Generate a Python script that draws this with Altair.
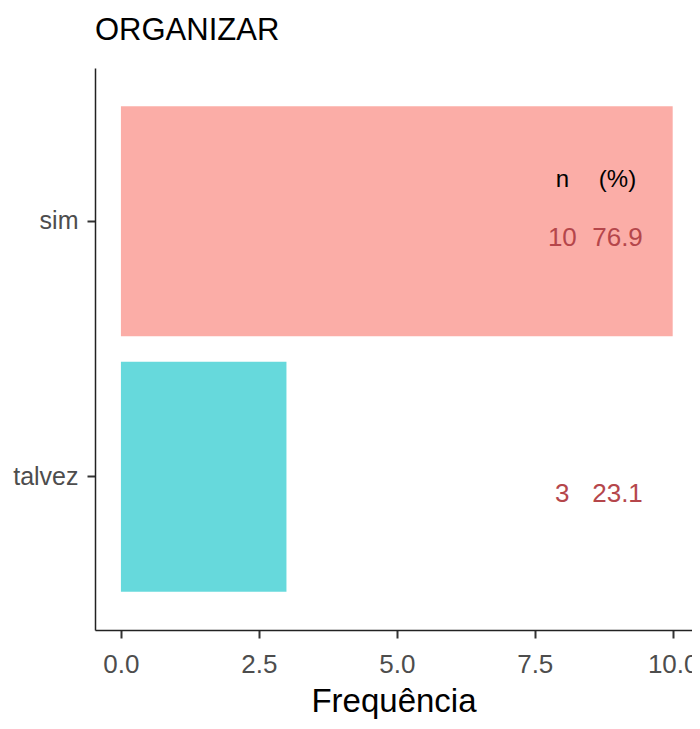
import altair as alt
import pandas as pd

categories = ["sim", "talvez"]
counts = [10, 3]
percents = ["76.9", "23.1"]
colors = ["#F8766D", "#00BFC4"]

df = pd.DataFrame({"cat": categories, "n": counts, "pct": percents})
hdr = pd.DataFrame({"cat": ["sim"]})

FONT = "Liberation Sans Narrow, Arial Narrow, Liberation Sans, sans-serif"

xscale = alt.Scale(domain=[-0.47, 10.35], nice=False, zero=False)
yscale = alt.Scale(domain=categories, paddingInner=0.1, paddingOuter=0.15)

bars = alt.Chart(df).mark_bar(opacity=0.6).encode(
    x=alt.X("n:Q", scale=xscale,
            axis=alt.Axis(title="Frequência", values=[0, 2.5, 5, 7.5, 10], format=".1f")),
    y=alt.Y("cat:N", scale=yscale, sort=categories, axis=alt.Axis(title=None)),
    color=alt.Color("cat:N", scale=alt.Scale(domain=categories, range=colors), legend=None),
)

n_txt = alt.Chart(df).mark_text(fontSize=26, font=FONT, color="#B5464B", dy=17).encode(
    x=alt.datum(8), y=alt.Y("cat:N", sort=categories), text="n:N"
)
p_txt = alt.Chart(df).mark_text(fontSize=26, font=FONT, color="#B5464B", dy=17).encode(
    x=alt.datum(9), y=alt.Y("cat:N", sort=categories), text="pct:N"
)
h1 = alt.Chart(hdr).mark_text(fontSize=24, font=FONT, color="black", dy=-41).encode(
    x=alt.datum(8), y=alt.Y("cat:N", sort=categories), text=alt.value("n")
)
h2 = alt.Chart(hdr).mark_text(fontSize=24, font=FONT, color="black", dy=-41).encode(
    x=alt.datum(9), y=alt.Y("cat:N", sort=categories), text=alt.value("(%)")
)

chart = (bars + n_txt + p_txt + h1 + h2).properties(
    width=597, height=562,
    title=alt.TitleParams("ORGANIZAR", anchor="start", frame="group", fontSize=31, font=FONT,
                          fontWeight="normal", color="black", offset=21),
    autosize=alt.AutoSizeParams(type="none"),
    padding={"left": 87, "top": 60, "right": 0, "bottom": 91},
).configure(background="white").configure_view(stroke=None).configure_axis(
    grid=False, domainColor="#222222", domainWidth=1.5, tickColor="#333333", tickWidth=2,
    tickSize=8, labelColor="#4D4D4D", labelFont=FONT,
    titleFont=FONT, titleFontWeight="normal", titleColor="black",
).configure_axisX(titlePadding=8, labelFontSize=26, labelPadding=13, titleFontSize=33
).configure_axisY(labelFontSize=25, labelPadding=9)

chart.save("out.html", embed_options={"renderer": "svg", "actions": False})
